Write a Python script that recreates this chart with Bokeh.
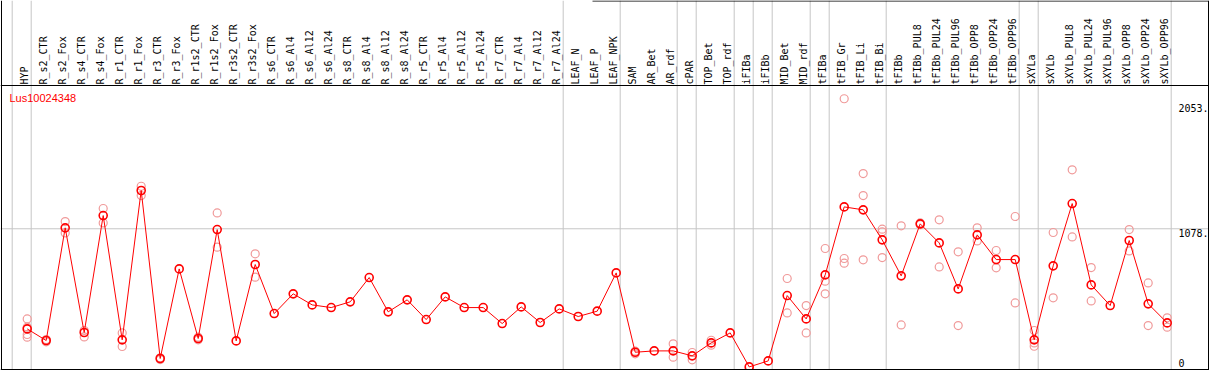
import math
from bokeh.plotting import figure
from bokeh.models import Range1d, Span
from bokeh.core.properties import value
from bokeh.embed import file_html
from bokeh.resources import INLINE

# ---------------- data ----------------
gene_id = "Lus10024348"

categories = [
    "HYP",
    "R_s2_CTR", "R_s2_Fox", "R_s4_CTR", "R_s4_Fox", "R_r1_CTR", "R_r1_Fox",
    "R_r3_CTR", "R_r3_Fox", "R_r1s2_CTR", "R_r1s2_Fox", "R_r3s2_CTR", "R_r3s2_Fox",
    "R_s6_CTR", "R_s6_Al4", "R_s6_Al12", "R_s6_Al24",
    "R_s8_CTR", "R_s8_Al4", "R_s8_Al12", "R_s8_Al24",
    "R_r5_CTR", "R_r5_Al4", "R_r5_Al12", "R_r5_Al24",
    "R_r7_CTR", "R_r7_Al4", "R_r7_Al12", "R_r7_Al24",
    "LEAF_N", "LEAF_P", "LEAF_NPK",
    "SAM", "AR_Bet", "AR_rdf",
    "cPAR",
    "TOP_Bet", "TOP_rdf",
    "iFIBa",
    "iFIBb",
    "MID_Bet", "MID_rdf",
    "tFIBa",
    "tFIB_Gr", "tFIB_Li", "tFIB_Bi",
    "tFIBb", "tFIBb_PUL8", "tFIBb_PUL24", "tFIBb_PUL96",
    "tFIBb_OPP8", "tFIBb_OPP24", "tFIBb_OPP96",
    "sXYLa",
    "sXYLb", "sXYLb_PUL8", "sXYLb_PUL24", "sXYLb_PUL96",
    "sXYLb_OPP8", "sXYLb_OPP24", "sXYLb_OPP96",
]

group_sizes = [1, 28, 3, 3, 1, 2, 1, 1, 2, 1, 3, 7, 1, 7]

mean_values = [
    327,
    240, 1085, 300, 1177, 245, 1365,
    105, 777, 255, 1072, 237, 810,
    442, 590, 507, 487,
    530, 712, 455, 545,
    397, 567, 487, 487,
    367, 492, 375, 477,
    420, 460, 747,
    152, 162, 162,
    125,
    222, 297,
    42,
    87,
    577, 402,
    732,
    1242, 1220, 995,
    725, 1115, 972, 627,
    1032, 847, 847,
    245,
    800, 1267, 657, 502,
    990, 515, 372,
]

rep_categories = [
    "HYP", "HYP", "HYP", "HYP",
    "R_s2_CTR", "R_s2_CTR", "R_s2_Fox", "R_s2_Fox",
    "R_s4_CTR", "R_s4_CTR", "R_s4_Fox", "R_s4_Fox",
    "R_r1_CTR", "R_r1_CTR", "R_r1_Fox", "R_r1_Fox",
    "R_r3_CTR", "R_r3_CTR",
    "R_r1s2_CTR", "R_r1s2_CTR", "R_r1s2_Fox", "R_r1s2_Fox",
    "R_r3s2_Fox", "R_r3s2_Fox",
    "SAM", "SAM", "AR_rdf", "AR_rdf", "cPAR", "cPAR", "TOP_Bet", "TOP_Bet",
    "MID_Bet", "MID_Bet", "MID_rdf", "MID_rdf",
    "tFIBa", "tFIBa", "tFIBa",
    "tFIB_Gr", "tFIB_Gr", "tFIB_Gr",
    "tFIB_Li", "tFIB_Li", "tFIB_Li",
    "tFIB_Bi", "tFIB_Bi", "tFIB_Bi",
    "tFIBb", "tFIBb",
    "tFIBb_PUL8", "tFIBb_PUL8",
    "tFIBb_PUL24", "tFIBb_PUL24",
    "tFIBb_PUL96", "tFIBb_PUL96",
    "tFIBb_OPP8", "tFIBb_OPP8",
    "tFIBb_OPP24", "tFIBb_OPP24",
    "tFIBb_OPP96", "tFIBb_OPP96",
    "sXYLa", "sXYLa", "sXYLa",
    "sXYLb", "sXYLb",
    "sXYLb_PUL8", "sXYLb_PUL8",
    "sXYLb_PUL24", "sXYLb_PUL24",
    "sXYLb_OPP8", "sXYLb_OPP8",
    "sXYLb_OPP24", "sXYLb_OPP24",
    "sXYLb_OPP96", "sXYLb_OPP96",
]

rep_values = [
    402, 340, 285, 265,
    247, 230, 1132, 1047,
    315, 267, 1230, 1122,
    297, 195, 1397, 1327,
    110, 97,
    265, 245, 1197, 940,
    890, 715,
    160, 140, 215, 115, 150, 95, 242, 205,
    705, 447, 502, 297,
    930, 685, 590,
    2053, 855, 820,
    1492, 1327, 845,
    1075, 1055, 862,
    1100, 357,
    1122, 1108,
    1145, 792,
    905, 352,
    1085, 987,
    915, 785,
    1170, 522,
    315, 197, 222,
    1050, 560,
    1520, 1017,
    787, 537,
    1072, 912,
    672, 352,
    410, 340,
]

y_tick_values = [2053, 1078, 0]
y_tick_labels = ["2053.", "1078.", "0"]
grid_value = 1078

# ---------------- layout (reference pixel geometry) ----------------
REF_W, REF_H = 1209, 370
W, H = 1209, 370
X0_PX, STEP_PX = 26.7, 19.0      # pixel of first category, spacing
ZERO_PX, UNITS_PER_PX = 372.0, 7.5


def x_at(px):
    return (px - X0_PX) / STEP_PX


def y_at(py):
    return (ZERO_PX - py) * UNITS_PER_PX


p = figure(
    width=W, height=H,
    x_range=Range1d(x_at(0), x_at(REF_W)),
    y_range=Range1d(y_at(REF_H), y_at(0)),
    x_axis_location=None, y_axis_location=None,
    output_backend="svg", toolbar_location=None,
    min_border=0, outline_line_color=None,
    background_fill_color="white", border_fill_color="white",
)
p.grid.visible = False

GRAY = "#c6c6c6"

# group separators (through header and plot)
bounds = [-1]
acc = -1
for g in group_sizes:
    acc += g
    bounds.append(acc)
for b in bounds:
    p.add_layout(Span(location=b + 4.0 / STEP_PX, dimension="height",
                      line_color=GRAY, line_width=1, level="underlay"))

# horizontal gridline
p.add_layout(Span(location=grid_value, dimension="width",
                  line_color=GRAY, line_width=1, level="underlay"))

# borders
for loc in (x_at(1.0), x_at(1208.0)):
    p.add_layout(Span(location=loc, dimension="height", line_color="black", line_width=1))
for loc in (y_at(85.0), y_at(369.0)):
    p.add_layout(Span(location=loc, dimension="width", line_color="black", line_width=1))
p.segment(x0=[x_at(592)], y0=[y_at(0.5)], x1=[x_at(1208)], y1=[y_at(0.5)],
          line_color="black", line_width=1)

# category labels (vertical)
xs = list(range(len(categories)))
p.text(x=xs, y=[y_at(84.0)] * len(xs), text=categories, angle=math.pi / 2,
       text_align="left", text_baseline="middle", x_offset=-3,
       text_font=value("DejaVu Sans Mono"), text_font_size="10px",
       text_color="black")

# gene id
p.text(x=[x_at(9)], y=[y_at(91)], text=[gene_id], text_align="left",
       text_baseline="top", text_font=value("Liberation Sans"),
       text_font_size="11px", text_color="red")

# right value labels
label_offsets = [9, 4.5, -10]
for v, lab, off in zip(y_tick_values, y_tick_labels, label_offsets):
    p.text(x=[x_at(1178)], y=[v], text=[lab], text_align="left",
           text_baseline="middle", y_offset=off,
           text_font=value("DejaVu Sans Mono"), text_font_size="10px",
           text_color="black")

# replicates
rep_x = [categories.index(c) for c in rep_categories]
p.scatter(rep_x, rep_values, marker="circle", size=8, fill_color=None,
          line_color="#f09a9a", line_width=1.2)

# mean line + markers
p.line(xs, mean_values, line_color="red", line_width=1)
p.scatter(xs, mean_values, marker="circle", size=8, fill_color=None,
          line_color="red", line_width=1.6)

open("out.html", "w").write(file_html(p, INLINE))
